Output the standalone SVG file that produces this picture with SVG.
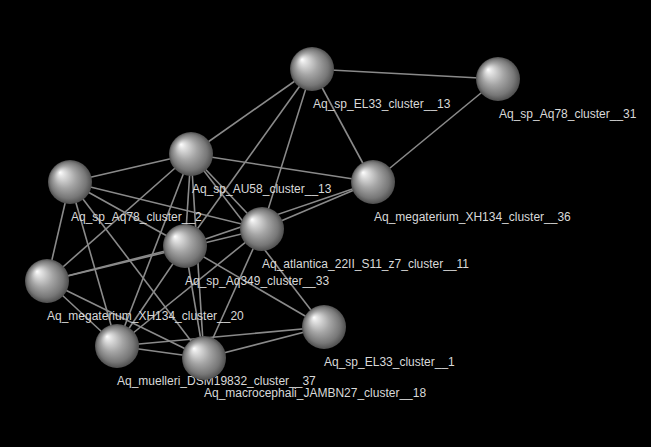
<svg xmlns="http://www.w3.org/2000/svg" width="651" height="447" viewBox="0 0 651 447">
<defs>
<radialGradient id="sph" cx="0.5" cy="0.5" r="0.5" fx="0.27" fy="0.28">
<stop offset="0" stop-color="#ffffff"/>
<stop offset="0.12" stop-color="#e6e6e6"/>
<stop offset="0.5" stop-color="#a4a4a4"/>
<stop offset="0.82" stop-color="#777777"/>
<stop offset="1" stop-color="#4e4e4e"/>
</radialGradient>
</defs>
<style>
.e{stroke:#8a8a8a;stroke-width:1.6;fill:none}
.n{fill:url(#sph)}
.t{font-family:"Liberation Sans",Arial,sans-serif;font-size:12px;fill:#d9d9d9}
</style>
<rect width="651" height="447" fill="#000"/>
<g id="edges">
<line class="e" x1="312" y1="69" x2="498" y2="79"/>
<line class="e" x1="312" y1="69" x2="373" y2="182"/>
<line class="e" x1="312" y1="69" x2="191" y2="154"/>
<line class="e" x1="312" y1="69" x2="185" y2="246"/>
<line class="e" x1="312" y1="69" x2="262" y2="229"/>
<line class="e" x1="498" y1="79" x2="373" y2="182"/>
<line class="e" x1="191" y1="154" x2="373" y2="182"/>
<line class="e" x1="191" y1="154" x2="70" y2="182"/>
<line class="e" x1="191" y1="154" x2="262" y2="229"/>
<line class="e" x1="191" y1="154" x2="47" y2="281"/>
<line class="e" x1="191" y1="154" x2="117" y2="346"/>
<line class="e" x1="191" y1="154" x2="185" y2="246"/>
<line class="e" x1="191" y1="154" x2="204" y2="358"/>
<line class="e" x1="191" y1="154" x2="324" y2="327"/>
<line class="e" x1="70" y1="182" x2="262" y2="229"/>
<line class="e" x1="70" y1="182" x2="185" y2="246"/>
<line class="e" x1="70" y1="182" x2="47" y2="281"/>
<line class="e" x1="70" y1="182" x2="117" y2="346"/>
<line class="e" x1="70" y1="182" x2="204" y2="358"/>
<line class="e" x1="47" y1="281" x2="185" y2="246"/>
<line class="e" x1="47" y1="281" x2="262" y2="229"/>
<line class="e" x1="185" y1="246" x2="373" y2="182"/>
<line class="e" x1="262" y1="229" x2="373" y2="182"/>
<line class="e" x1="185" y1="246" x2="117" y2="346"/>
<line class="e" x1="185" y1="246" x2="204" y2="358"/>
<line class="e" x1="185" y1="246" x2="324" y2="327"/>
<line class="e" x1="262" y1="229" x2="117" y2="346"/>
<line class="e" x1="262" y1="229" x2="204" y2="358"/>
<line class="e" x1="47" y1="281" x2="117" y2="346"/>
<line class="e" x1="47" y1="281" x2="204" y2="358"/>
<line class="e" x1="117" y1="346" x2="204" y2="358"/>
<line class="e" x1="117" y1="346" x2="324" y2="327"/>
<line class="e" x1="204" y1="358" x2="324" y2="327"/>
</g>
<g id="n_EL33_13"><circle class="n" cx="312" cy="69" r="22"/><text class="t" x="313" y="108">Aq_sp_EL33_cluster__13</text></g>
<g id="n_Aq78_31"><circle class="n" cx="498" cy="79" r="22"/><text class="t" x="499" y="118">Aq_sp_Aq78_cluster__31</text></g>
<g id="n_AU58_13"><circle class="n" cx="191" cy="154" r="22"/><text class="t" x="192" y="193">Aq_sp_AU58_cluster__13</text></g>
<g id="n_XH134_36"><circle class="n" cx="373" cy="182" r="22"/><text class="t" x="374" y="221">Aq_megaterium_XH134_cluster__36</text></g>
<g id="n_Aq78_2"><circle class="n" cx="70" cy="182" r="22"/><text class="t" x="71" y="221">Aq_sp_Aq78_cluster__2</text></g>
<g id="n_atlantica_11"><circle class="n" cx="262" cy="229" r="22"/><text class="t" x="262" y="268">Aq_atlantica_22II_S11_z7_cluster__11</text></g>
<g id="n_Aq349_33"><circle class="n" cx="185" cy="246" r="22"/><text class="t" x="185" y="285">Aq_sp_Aq349_cluster__33</text></g>
<g id="n_XH134_20"><circle class="n" cx="47" cy="281" r="22"/><text class="t" x="47" y="320">Aq_megaterium_XH134_cluster__20</text></g>
<g id="n_EL33_1"><circle class="n" cx="324" cy="327" r="22"/><text class="t" x="324" y="366">Aq_sp_EL33_cluster__1</text></g>
<g id="n_muelleri_37"><circle class="n" cx="117" cy="346" r="22"/><text class="t" x="117" y="385">Aq_muelleri_DSM19832_cluster__37</text></g>
<g id="n_macrocephali_18"><circle class="n" cx="204" cy="358" r="22"/><text class="t" x="204" y="397">Aq_macrocephali_JAMBN27_cluster__18</text></g>
</svg>
